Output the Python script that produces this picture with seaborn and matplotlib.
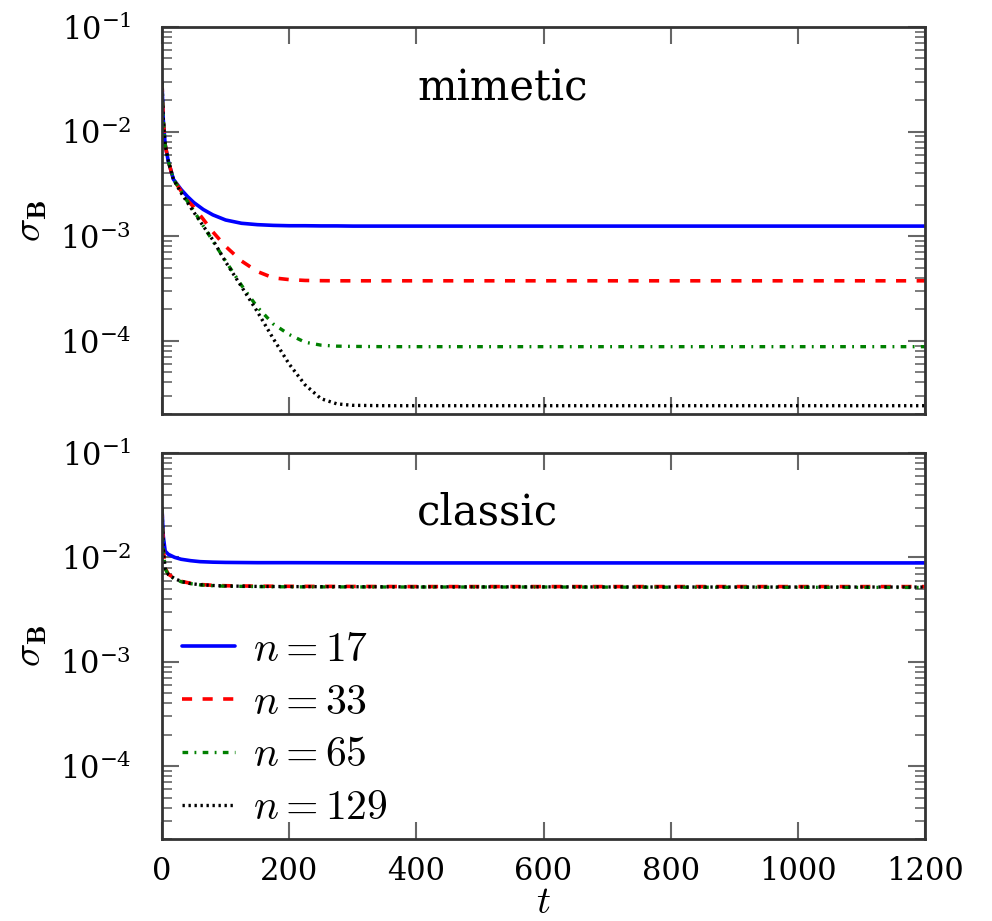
import numpy as np
import pandas as pd
import matplotlib
matplotlib.use("Agg")
import matplotlib.pyplot as plt
import seaborn as sns
from matplotlib.font_manager import FontProperties
from matplotlib.ticker import LogLocator, MultipleLocator, NullFormatter

# values
labels = [r"$n\,\!=\,\!17$", r"$n\,\!=\,\!33$", r"$n\,\!=\,\!65$", r"$n\,\!=\,\!129$"]
colors = ["#0000ff", "#ff0000", "#008000", "#000000"]

t_mim = [0, 2, 5, 10, 18, 30, 40, 50, 65, 80, 100, 125, 150, 175, 200, 225,
         250, 275, 300, 350, 400, 600, 800, 1000, 1200]
mim_17 = [3.0e-2, 1.3e-2, 7.5e-3, 5.2e-3, 3.5e-3, 2.8e-3, 2.4e-3, 2.1e-3, 1.8e-3,
          1.6e-3, 1.43e-3, 1.33e-3, 1.29e-3, 1.27e-3, 1.26e-3, 1.26e-3, 1.255e-3,
          1.255e-3, 1.25e-3, 1.25e-3, 1.25e-3, 1.25e-3, 1.25e-3, 1.25e-3, 1.25e-3]
mim_33 = [3.0e-2, 1.3e-2, 7.5e-3, 5.2e-3, 3.5e-3, 2.7e-3, 2.2e-3, 1.9e-3, 1.45e-3,
          1.1e-3, 8.0e-4, 5.8e-4, 4.6e-4, 4.0e-4, 3.85e-4, 3.78e-4, 3.76e-4,
          3.75e-4, 3.75e-4, 3.75e-4, 3.75e-4, 3.75e-4, 3.75e-4, 3.75e-4, 3.75e-4]
mim_65 = [3.0e-2, 1.3e-2, 7.5e-3, 5.2e-3, 3.5e-3, 2.7e-3, 2.15e-3, 1.75e-3, 1.25e-3,
          9.0e-4, 5.8e-4, 3.4e-4, 2.1e-4, 1.45e-4, 1.15e-4, 9.7e-5, 9.1e-5,
          8.9e-5, 8.85e-5, 8.8e-5, 8.8e-5, 8.8e-5, 8.8e-5, 8.8e-5, 8.8e-5]
mim_129 = [3.0e-2, 1.3e-2, 7.5e-3, 5.2e-3, 3.5e-3, 2.6e-3, 2.1e-3, 1.7e-3, 1.25e-3,
           9.2e-4, 5.7e-4, 3.3e-4, 1.9e-4, 1.05e-4, 6.0e-5, 3.8e-5, 2.8e-5,
           2.5e-5, 2.42e-5, 2.4e-5, 2.4e-5, 2.4e-5, 2.4e-5, 2.4e-5, 2.4e-5]

t_cls = [0, 2, 5, 10, 20, 30, 45, 60, 80, 100, 150, 200, 400, 600, 800, 1000, 1200]
cls_17 = [3.0e-2, 1.6e-2, 1.15e-2, 1.07e-2, 1.0e-2, 9.6e-3, 9.3e-3, 9.1e-3, 9.0e-3,
          8.95e-3, 8.9e-3, 8.9e-3, 8.85e-3, 8.85e-3, 8.85e-3, 8.85e-3, 8.85e-3]
cls_33 = [3.0e-2, 1.2e-2, 7.9e-3, 6.9e-3, 6.3e-3, 5.9e-3, 5.65e-3, 5.5e-3, 5.4e-3,
          5.35e-3, 5.3e-3, 5.28e-3, 5.25e-3, 5.25e-3, 5.25e-3, 5.25e-3, 5.25e-3]
cls_65 = [3.0e-2, 1.2e-2, 7.8e-3, 6.8e-3, 6.2e-3, 5.85e-3, 5.6e-3, 5.45e-3, 5.35e-3,
          5.3e-3, 5.25e-3, 5.22e-3, 5.2e-3, 5.2e-3, 5.18e-3, 5.17e-3, 5.15e-3]
cls_129 = [3.0e-2, 1.2e-2, 7.8e-3, 6.85e-3, 6.25e-3, 5.9e-3, 5.6e-3, 5.48e-3, 5.38e-3,
           5.32e-3, 5.27e-3, 5.25e-3, 5.22e-3, 5.22e-3, 5.2e-3, 5.2e-3, 5.2e-3]

styles = [dict(linestyle="-", lw=2.6),
          dict(linestyle=(0, (2.8, 2.9)), lw=2.6),
          dict(linestyle=(0, (1.7, 1.9, 0.55, 1.9)), lw=2.4),
          dict(linestyle=(0, (0.7, 1.1)), lw=2.4)]

sns.set_theme(style="ticks")
plt.rcParams["font.family"] = ["DejaVu Serif"]
plt.rcParams["mathtext.fontset"] = "dejavuserif"
plt.rcParams["axes.unicode_minus"] = False
plt.rcParams["text.color"] = "black"
plt.rcParams["axes.labelcolor"] = "black"
plt.rcParams["xtick.labelcolor"] = "black"
plt.rcParams["ytick.labelcolor"] = "black"

fig = plt.figure(figsize=(9.92, 9.21), dpi=100)
ax1 = fig.add_axes([0.1633, 0.5505, 0.7692, 0.4202])
ax2 = fig.add_axes([0.1633, 0.089, 0.7692, 0.4191])

panels = [(ax1, t_mim, [mim_17, mim_33, mim_65, mim_129], "mimetic", (0.447, 0.84)),
          (ax2, t_cls, [cls_17, cls_33, cls_65, cls_129], "classic", (0.426, 0.845))]

for ax, tt, series, name, pos in panels:
    for vals, lab, col, st in zip(series, labels, colors, styles):
        df = pd.DataFrame({"t": tt, "sigma": vals})
        sns.lineplot(data=df, x="t", y="sigma", ax=ax, color=col, label=lab, **st)
    ax.set_yscale("log")
    ax.set_ylim(2e-5, 1e-1)
    ax.set_xlim(0, 1200)
    ax.xaxis.set_major_locator(MultipleLocator(200))
    ax.yaxis.set_major_locator(LogLocator(base=10, numticks=10))
    ax.yaxis.set_minor_locator(LogLocator(base=10, subs=np.arange(2, 10), numticks=10))
    ax.yaxis.set_minor_formatter(NullFormatter())
    ax.tick_params(which="both", direction="in", top=True, right=True, color="#666666")
    ax.tick_params(which="major", length=12, width=1.5, labelsize=22)
    ax.tick_params(which="minor", length=7, width=1.2)
    ax.tick_params(axis="y", pad=22)
    ax.tick_params(axis="x", pad=12)
    for sp in ax.spines.values():
        sp.set_color("#333333")
        sp.set_linewidth(2)
    ax.text(pos[0], pos[1], name, transform=ax.transAxes, ha="center", va="center",
            fontsize=30)
    ax.set_xlabel("")
    ax.set_ylabel(r"$\sigma_{\mathbf{B}}$", fontproperties=FontProperties(size=28, math_fontfamily="cm"),
                  labelpad=8)
    ax.get_legend().remove()

ax1.tick_params(axis="x", labelbottom=False)
ax2.set_xlabel("$t$", fontproperties=FontProperties(size=28, math_fontfamily="cm"), labelpad=-2)

ax2.legend(loc="lower left", bbox_to_anchor=(0.012, 0.0), frameon=False,
           prop=FontProperties(family="DejaVu Serif", size=30, math_fontfamily="cm"),
           handlelength=1.27, labelspacing=0.26, borderaxespad=0.1, borderpad=0.16,
           handletextpad=0.43)

fig.savefig("out.png", dpi=100)
